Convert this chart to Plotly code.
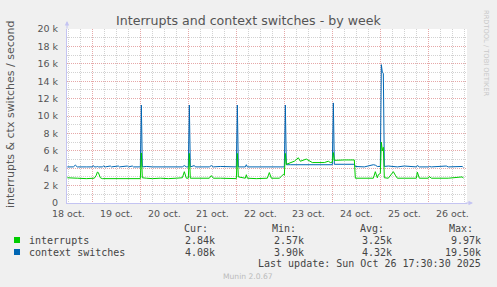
import plotly.graph_objects as go

# ---------------- data ----------------
times = [
    "2025-10-18 11:30", "2025-10-18 14:30", "2025-10-18 15:30", "2025-10-18 16:30", "2025-10-18 21:00",
    "2025-10-19 00:00", "2025-10-19 00:30", "2025-10-19 01:00", "2025-10-19 02:00", "2025-10-19 02:30",
    "2025-10-19 03:00", "2025-10-19 04:00", "2025-10-19 05:00", "2025-10-19 05:30", "2025-10-19 06:30",
    "2025-10-19 09:00", "2025-10-19 09:30", "2025-10-19 13:00", "2025-10-19 13:30", "2025-10-19 17:30",
    "2025-10-19 18:00", "2025-10-19 20:00", "2025-10-19 20:30",
    "2025-10-20 00:00", "2025-10-20 00:30", "2025-10-20 01:00", "2025-10-20 03:00", "2025-10-20 06:00",
    "2025-10-20 10:00", "2025-10-20 14:00", "2025-10-20 18:00", "2025-10-20 21:00", "2025-10-20 22:00",
    "2025-10-20 23:00",
    "2025-10-21 00:00", "2025-10-21 00:30", "2025-10-21 01:00", "2025-10-21 03:00", "2025-10-21 03:30",
    "2025-10-21 10:30", "2025-10-21 11:30", "2025-10-21 12:30", "2025-10-21 16:00", "2025-10-21 20:00",
    "2025-10-22 00:00", "2025-10-22 00:30", "2025-10-22 01:00", "2025-10-22 04:30", "2025-10-22 05:00",
    "2025-10-22 05:30", "2025-10-22 10:00", "2025-10-22 15:30", "2025-10-22 16:30", "2025-10-22 17:30",
    "2025-10-22 21:30", "2025-10-22 22:30", "2025-10-22 23:30",
    "2025-10-23 00:00", "2025-10-23 00:30", "2025-10-23 01:00", "2025-10-23 03:00", "2025-10-23 05:00",
    "2025-10-23 07:00", "2025-10-23 08:00", "2025-10-23 11:00", "2025-10-23 12:30", "2025-10-23 14:00",
    "2025-10-23 20:00", "2025-10-23 22:00", "2025-10-23 23:00",
    "2025-10-24 00:00", "2025-10-24 00:30", "2025-10-24 01:00", "2025-10-24 06:00", "2025-10-24 11:00",
    "2025-10-24 11:30", "2025-10-24 16:00", "2025-10-24 20:30", "2025-10-24 21:30", "2025-10-24 22:30",
    "2025-10-24 23:00",
    "2025-10-25 00:00", "2025-10-25 00:30", "2025-10-25 01:00", "2025-10-25 01:30", "2025-10-25 02:00",
    "2025-10-25 04:00", "2025-10-25 06:30", "2025-10-25 07:30", "2025-10-25 08:30", "2025-10-25 12:00",
    "2025-10-25 18:00", "2025-10-25 18:30", "2025-10-25 19:30",
    "2025-10-26 00:00", "2025-10-26 00:30", "2025-10-26 01:30", "2025-10-26 09:00", "2025-10-26 10:00",
    "2025-10-26 17:00", "2025-10-26 17:30",
]
interrupts = [
    2900, 2850, 2800, 2850, 2800,
    2800, 2850, 2850, 3200, 3550,
    3500, 2900, 2800, 2800, 2800,
    2800, 2800, 2780, 2780, 2780,
    2780, 2780, 2780,
    2800, 5750, 2900, 2850, 2800,
    2850, 2800, 2850, 2900, 3600,
    2850,
    2850, 5700, 2850, 2850, 2800,
    2850, 3150, 2850, 2850, 2800,
    2800, 5700, 3000, 2850, 3250,
    2850, 2800, 2850, 3500, 2850,
    2850, 3050, 3300,
    3200, 5700, 4450, 4600, 4800,
    5200, 4800, 5050, 4800, 4650,
    4650, 4800, 4650,
    4700, 5800, 4900, 4950, 4950,
    2850, 2850, 2850, 3600, 2900,
    3250,
    3400, 7000, 6000, 6400, 2900,
    2850, 3600, 3200, 2850, 2850,
    2850, 3550, 2850,
    2850, 3050, 2850, 2850, 2850,
    3000, 2840,
]
context_switches = [
    4150, 4150, 4350, 4150, 4150,
    4150, 4300, 4150, 4150, 4200,
    4150, 4150, 4150, 4250, 4150,
    4250, 4150, 4250, 4150, 4250,
    4150, 4250, 4150,
    4150, 11250, 4150, 4200, 4150,
    4150, 4200, 4150, 4150, 4300,
    4150,
    4150, 11250, 4150, 4300, 4150,
    4150, 4300, 4150, 4200, 4150,
    4150, 11250, 4150, 4150, 4400,
    4150, 4150, 4150, 4200, 4150,
    4150, 4150, 4150,
    4150, 11250, 4400, 4400, 4400,
    4400, 4400, 4400, 4400, 4400,
    4400, 4400, 4400,
    4400, 11500, 4450, 4450, 4450,
    4200, 4150, 4400, 4350, 4200,
    4200,
    4200, 15900, 15000, 14900, 4200,
    4250, 4200, 4200, 4150, 4250,
    4150, 4300, 4150,
    4150, 4200, 4150, 4250, 4150,
    4200, 4080,
]

series_names = ["interrupts", "context switches"]
series_colors = ["#00CC00", "#0066B3"]
stat_headers = ["Cur:", "Min:", "Avg:", "Max:"]
stats_interrupts = ["2.84k", "2.57k", "3.25k", "9.97k"]
stats_ctx = ["4.08k", "3.90k", "4.32k", "19.50k"]

y_tickvals = [0, 2000, 4000, 6000, 8000, 10000, 12000, 14000, 16000, 18000, 20000]
y_ticktext = ["0", "2 k", "4 k", "6 k", "8 k", "10 k", "12 k", "14 k", "16 k", "18 k", "20 k"]
day_midnights = ["2025-10-%02d 00:00" % d for d in range(19, 27)]
day_noons = ["2025-10-%02d 12:00" % d for d in range(18, 27)]
day_labels = ["%d oct." % d for d in range(18, 27)]
x_range = ["2025-10-18 11:20", "2025-10-26 19:20"]

title_text = "Interrupts and context switches - by week"
y_title = "interrupts & ctx switches / second"
last_update = "Last update: Sun Oct 26 17:30:30 2025"

# ---------------- geometry ----------------
W, H = 497, 287
L, R, T, B = 67, 30, 29, 84
PW, PH = W - L - R, H - T - B


def px(x):
    return (x - L) / PW


def py(y):
    return (H - B - y) / PH


SANS = "DejaVu Sans"
MONO = "DejaVu Sans Mono"
MAJOR = "#E6A8A8"
MINOR = "#D2D2D2"
AXIS = "#C4C4F2"

fig = go.Figure()
fig.add_trace(go.Scatter(x=times, y=context_switches, mode="lines", name=series_names[1],
                         line=dict(color=series_colors[1], width=1), showlegend=False))
fig.add_trace(go.Scatter(x=times, y=interrupts, mode="lines", name=series_names[0],
                         line=dict(color=series_colors[0], width=1), showlegend=False))

fig.update_layout(
    width=W, height=H,
    margin=dict(l=L, r=R, t=T, b=B),
    paper_bgcolor="#F0F0F0",
    plot_bgcolor="#FFFFFF",
    font=dict(family=SANS, size=10, color="#555555"),
    xaxis=dict(
        type="date", range=x_range, tickvals=day_midnights, showticklabels=False,
        ticks="", showgrid=True, gridcolor=MAJOR, griddash="1px,1px", gridwidth=1,
        minor=dict(dtick=6 * 3600 * 1000, tick0="2025-10-18 00:00", showgrid=True,
                   gridcolor=MINOR, griddash="1px,1px", gridwidth=1, ticks=""),
        showline=True, linecolor=AXIS, linewidth=1, zeroline=False,
    ),
    xaxis2=dict(
        type="date", range=x_range, overlaying="x", anchor="y", side="bottom",
        tickvals=day_noons, ticktext=day_labels, ticks="", showgrid=False,
        tickfont=dict(family=SANS, size=9.5, color="#555555"), showline=False, zeroline=False,
        ticklabelstandoff=3,
    ),
    yaxis=dict(
        range=[0, 20000], tickvals=y_tickvals, ticktext=y_ticktext, ticks="",
        showgrid=True, gridcolor=MAJOR, griddash="1px,1px", gridwidth=1,
        minor=dict(dtick=1000, showgrid=True, gridcolor=MINOR, griddash="1px,1px", ticks=""),
        showline=True, linecolor=AXIS, linewidth=1, zeroline=False,
        tickfont=dict(family=SANS, size=9.5, color="#555555"), ticklabelstandoff=6,
    ),
)

# invisible trace to bind xaxis2
fig.add_trace(go.Scatter(x=[times[0]], y=[None], xaxis="x2", yaxis="y", showlegend=False,
                         hoverinfo="skip"))

ann = []
ann.append(dict(text=title_text, x=px(248), y=py(20), xref="paper", yref="paper",
                showarrow=False, xanchor="center", yanchor="middle",
                font=dict(family=SANS, size=12.6, color="#555555")))
ann.append(dict(text=y_title, x=px(11), y=py(115), xref="paper", yref="paper", textangle=-90,
                showarrow=False, xanchor="center", yanchor="middle",
                font=dict(family=SANS, size=11, color="#555555")))
ann.append(dict(text="RRDTOOL / TOBI OETIKER", x=px(486), y=py(53), xref="paper", yref="paper",
                textangle=90, showarrow=False, xanchor="center", yanchor="middle",
                font=dict(family=SANS, size=6.7, color="#C8C8C8")))
# axis arrows
ann.append(dict(x=0, y=py(21), xref="paper", yref="paper", ax=0, ay=9, axref="pixel", ayref="pixel",
                showarrow=True, arrowhead=2, arrowsize=0.9, arrowwidth=1, arrowcolor=AXIS, text=""))
ann.append(dict(x=px(473), y=0, xref="paper", yref="paper", ax=-9, ay=0,
                showarrow=True, arrowhead=2, arrowsize=0.9, arrowwidth=1, arrowcolor=AXIS, text=""))

LEG = "#444444"
head_x = [182, 270, 358, 447]
val_x = [187, 276, 364, 453]
for hx, h in zip(head_x, stat_headers):
    ann.append(dict(text=h, x=px(hx), y=py(228), xref="paper", yref="paper", showarrow=False,
                    xanchor="left", yanchor="middle", font=dict(family=MONO, size=10, color=LEG)))
rows = [(series_names[0], stats_interrupts, 240), (series_names[1], stats_ctx, 252)]
shapes = []
for (name, vals, yy), col in zip(rows, series_colors):
    ann.append(dict(text=name, x=px(26.5), y=py(yy), xref="paper", yref="paper", showarrow=False,
                    xanchor="left", yanchor="middle", font=dict(family=MONO, size=10, color=LEG)))
    for vx, v in zip(val_x, vals):
        ann.append(dict(text=v, x=px(vx + 30), y=py(yy), xref="paper", yref="paper", showarrow=False,
                        xanchor="right", yanchor="middle", font=dict(family=MONO, size=10, color=LEG)))
    shapes.append(dict(type="rect", xref="paper", yref="paper", x0=px(14), x1=px(20),
                       y0=py(yy + 3), y1=py(yy - 3), fillcolor=col, line=dict(width=0)))
ann.append(dict(text=last_update, x=px(483), y=py(263.5), xref="paper", yref="paper", showarrow=False,
                xanchor="right", yanchor="middle", font=dict(family=MONO, size=10, color=LEG)))
ann.append(dict(text="Munin 2.0.67", x=px(248), y=py(276), xref="paper", yref="paper", showarrow=False,
                xanchor="center", yanchor="middle", font=dict(family=SANS, size=7.6, color="#BBBBBB")))

fig.update_layout(annotations=ann, shapes=shapes)
fig.write_html("out.html")
